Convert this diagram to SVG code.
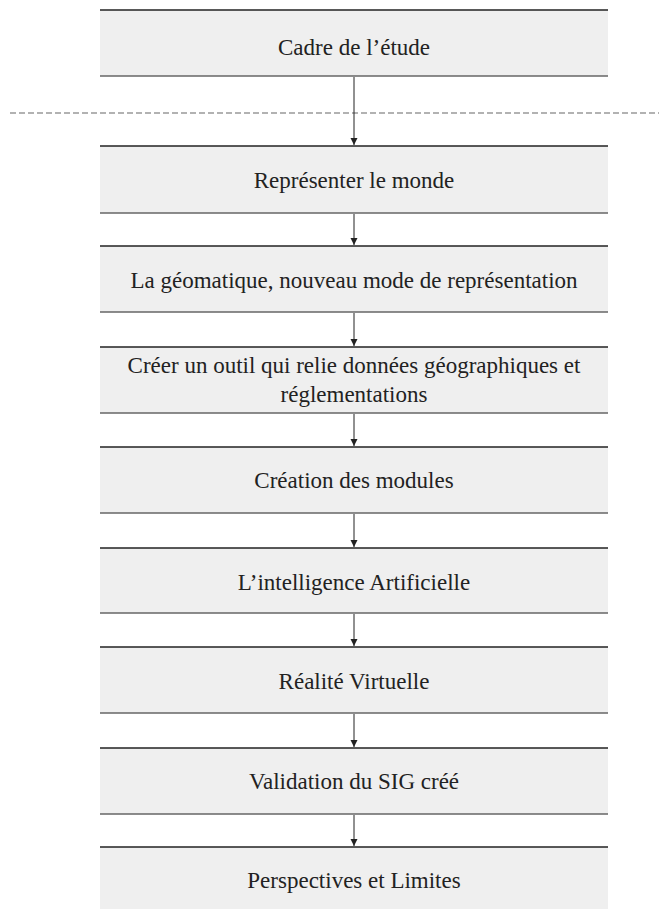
<svg xmlns="http://www.w3.org/2000/svg" width="659" height="909" viewBox="0 0 659 909">
<style>
.box{fill:#efefef}
.top{stroke:#222;stroke-width:1.5}
.bot{stroke:#666;stroke-width:1.5}
.t{font-family:"Liberation Serif","Times New Roman",serif;font-size:23px;fill:#222;text-anchor:middle}
.c{stroke:#222;stroke-width:1;fill:none;marker-end:url(#ah)}
</style>
<defs>
<marker id="ah" markerWidth="8" markerHeight="8" refX="7" refY="4" orient="auto" markerUnits="userSpaceOnUse">
<path d="M0,0.5 L7,4 L0,7.5 z" fill="#222"/>
</marker>
</defs>
<line x1="10" y1="113" x2="659" y2="113" stroke="#666" stroke-width="1.2" stroke-dasharray="6 3"/>
<g id="connectors">
<line class="c" x1="354" y1="77" x2="354" y2="145"/>
<line class="c" x1="354" y1="214" x2="354" y2="245"/>
<line class="c" x1="354" y1="313" x2="354" y2="346"/>
<line class="c" x1="354" y1="414" x2="354" y2="446"/>
<line class="c" x1="354" y1="514" x2="354" y2="547"/>
<line class="c" x1="354" y1="614" x2="354" y2="646"/>
<line class="c" x1="354" y1="714" x2="354" y2="747"/>
<line class="c" x1="354" y1="815" x2="354" y2="846"/>
</g>
<g id="n1"><rect class="box" x="100" y="10" width="508" height="66"/><line class="top" x1="100" y1="10" x2="608" y2="10"/><line class="bot" x1="100" y1="76" x2="608" y2="76"/><text class="t" x="354" y="55">Cadre de l’étude</text></g>
<g id="n2"><rect class="box" x="100" y="146" width="508" height="67"/><line class="top" x1="100" y1="146" x2="608" y2="146"/><line class="bot" x1="100" y1="213" x2="608" y2="213"/><text class="t" x="354" y="188">Représenter le monde</text></g>
<g id="n3"><rect class="box" x="100" y="246" width="508" height="66"/><line class="top" x1="100" y1="246" x2="608" y2="246"/><line class="bot" x1="100" y1="312" x2="608" y2="312"/><text class="t" x="354" y="288">La géomatique, nouveau mode de représentation</text></g>
<g id="n4"><rect class="box" x="100" y="347" width="508" height="66"/><line class="top" x1="100" y1="347" x2="608" y2="347"/><line class="bot" x1="100" y1="413" x2="608" y2="413"/><text class="t" x="354" y="373">Créer un outil qui relie données géographiques et</text><text class="t" x="354" y="402">réglementations</text></g>
<g id="n5"><rect class="box" x="100" y="447" width="508" height="66"/><line class="top" x1="100" y1="447" x2="608" y2="447"/><line class="bot" x1="100" y1="513" x2="608" y2="513"/><text class="t" x="354" y="488">Création des modules</text></g>
<g id="n6"><rect class="box" x="100" y="548" width="508" height="65"/><line class="top" x1="100" y1="548" x2="608" y2="548"/><line class="bot" x1="100" y1="613" x2="608" y2="613"/><text class="t" x="354" y="590">L’intelligence Artificielle</text></g>
<g id="n7"><rect class="box" x="100" y="647" width="508" height="66"/><line class="top" x1="100" y1="647" x2="608" y2="647"/><line class="bot" x1="100" y1="713" x2="608" y2="713"/><text class="t" x="354" y="689">Réalité Virtuelle</text></g>
<g id="n8"><rect class="box" x="100" y="748" width="508" height="66"/><line class="top" x1="100" y1="748" x2="608" y2="748"/><line class="bot" x1="100" y1="814" x2="608" y2="814"/><text class="t" x="354" y="789">Validation du SIG créé</text></g>
<g id="n9"><rect class="box" x="100" y="847" width="508" height="66"/><line class="top" x1="100" y1="847" x2="608" y2="847"/><text class="t" x="354" y="888">Perspectives et Limites</text></g>
</svg>
